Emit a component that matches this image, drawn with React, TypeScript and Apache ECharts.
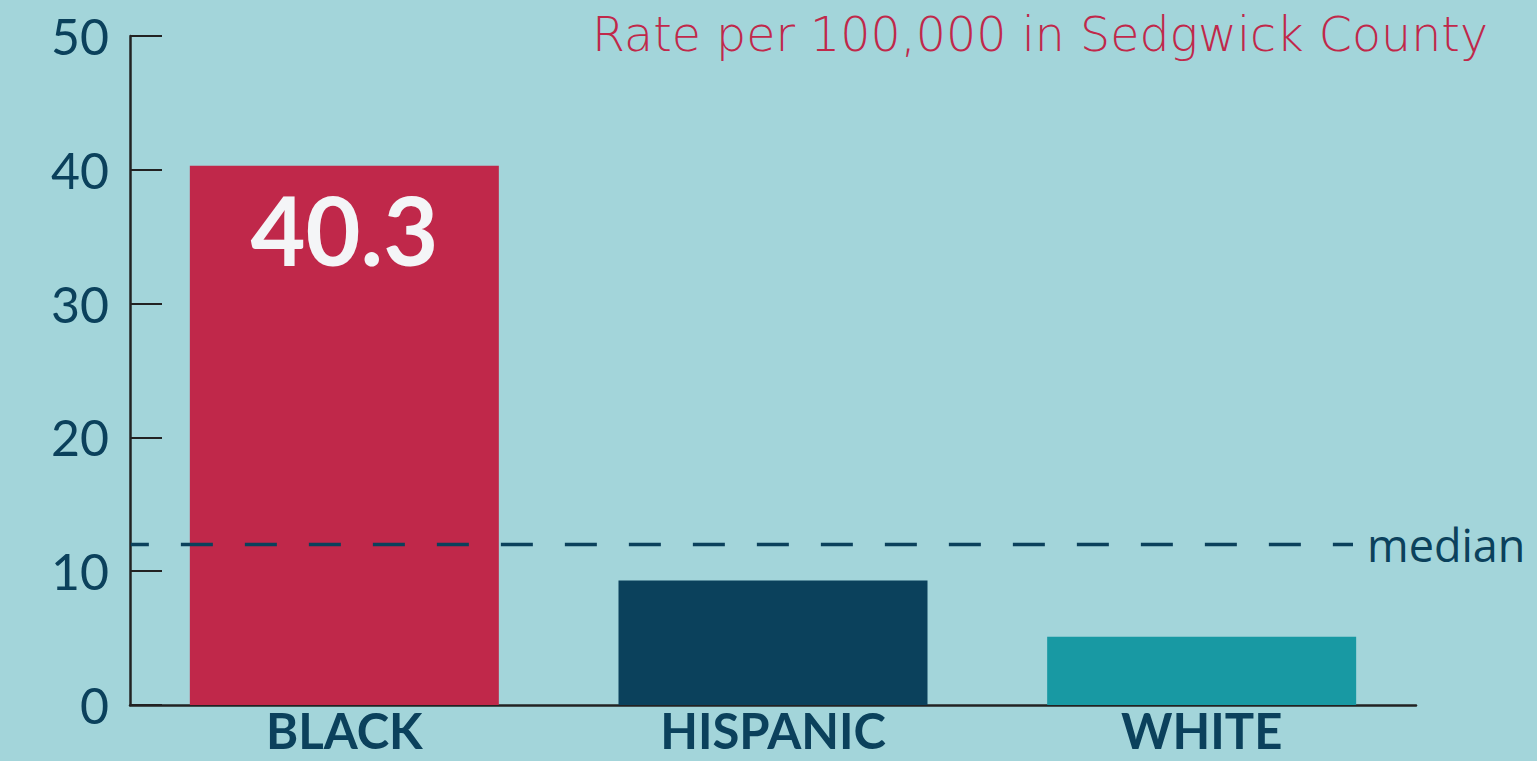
import React, { useEffect, useRef } from "react";
import * as echarts from "echarts";

const categories = ["BLACK", "HISPANIC", "WHITE"];
const rates = [40.3, 9.3, 5.1];
const barColors = ["#c0284a", "#0b415c", "#1899a3"];
const medianValue = 12;
const medianLabel = "median";
const yTicks = [0, 10, 20, 30, 40, 50];
const titleText = "Rate per 100,000 in Sedgwick County";

export default function App() {
  const ref = useRef<HTMLDivElement>(null);
  useEffect(() => {
    if (!ref.current) return;
    const chart = echarts.init(ref.current, null, { renderer: "svg" });
    const navy = "#0b415c";
    const option: any = {
      animation: false,
      backgroundColor: "#a3d5da",
      title: {
        text: titleText,
        right: 44,
        top: 5,
        textStyle: {
          fontFamily: "DejaVu Sans",
          fontWeight: 200,
          fontSize: 47.5,
          color: "#c0284a",
        },
      },
      grid: { left: 130, right: 121, top: 36, bottom: 56, containLabel: false },
      xAxis: [
        {
          type: "category",
          data: categories,
          axisLine: { lineStyle: { color: "#222", width: 2.5 } },
          axisTick: { inside: true, length: 15, lineStyle: { color: "#222", width: 2 } },
          axisLabel: {
            fontFamily: "Lato",
            fontWeight: "bold",
            fontSize: 49,
            lineHeight: 40,
            color: navy,
            margin: 5,
          },
          z: 1,
        },
        {
          type: "value",
          min: 0,
          max: 3,
          show: false,
        },
      ],
      yAxis: {
        type: "value",
        min: 0,
        max: 50,
        interval: 10,
        splitLine: { show: false },
        axisLine: { show: true, lineStyle: { color: "#222", width: 2.5 } },
        axisTick: { show: true, inside: true, length: 32, lineStyle: { color: "#222", width: 2 } },
        axisLabel: {
          fontFamily: "Lato",
          fontSize: 50,
          color: navy,
          margin: 21,
          formatter: (v: number) => (yTicks.includes(v) ? String(v) : ""),
        },
      },
      series: [
        {
          type: "bar",
          barWidth: 309,
          z: 2,
          data: rates.map((v, i) => ({
            value: v,
            itemStyle: { color: barColors[i] },
            label:
              i === 0
                ? {
                    show: true,
                    position: "insideTop",
                    distance: 16,
                    formatter: "{c}",
                    fontFamily: "Lato",
                    fontWeight: "bold",
                    fontSize: 95,
                    color: "#f4f5f7",
                  }
                : { show: false },
          })),
        },
        {
          type: "line",
          xAxisIndex: 1,
          z: 5,
          symbol: "none",
          silent: true,
          data: [
            [0.002, medianValue],
            [2.853, medianValue],
          ],
          lineStyle: { color: navy, width: 3.5, type: [32, 32], dashOffset: 14 },
          endLabel: {
            show: true,
            formatter: () => medianLabel,
            fontFamily: "Open Sans",
            fontSize: 45,
            color: navy,
            distance: 14,
          },
        },
      ],
    };
    chart.setOption(option);
    return () => chart.dispose();
  }, []);
  return (
    <div
      ref={ref}
      style={{ position: "fixed", left: 0, top: 0, width: 1537, height: 761 }}
    />
  );
}
